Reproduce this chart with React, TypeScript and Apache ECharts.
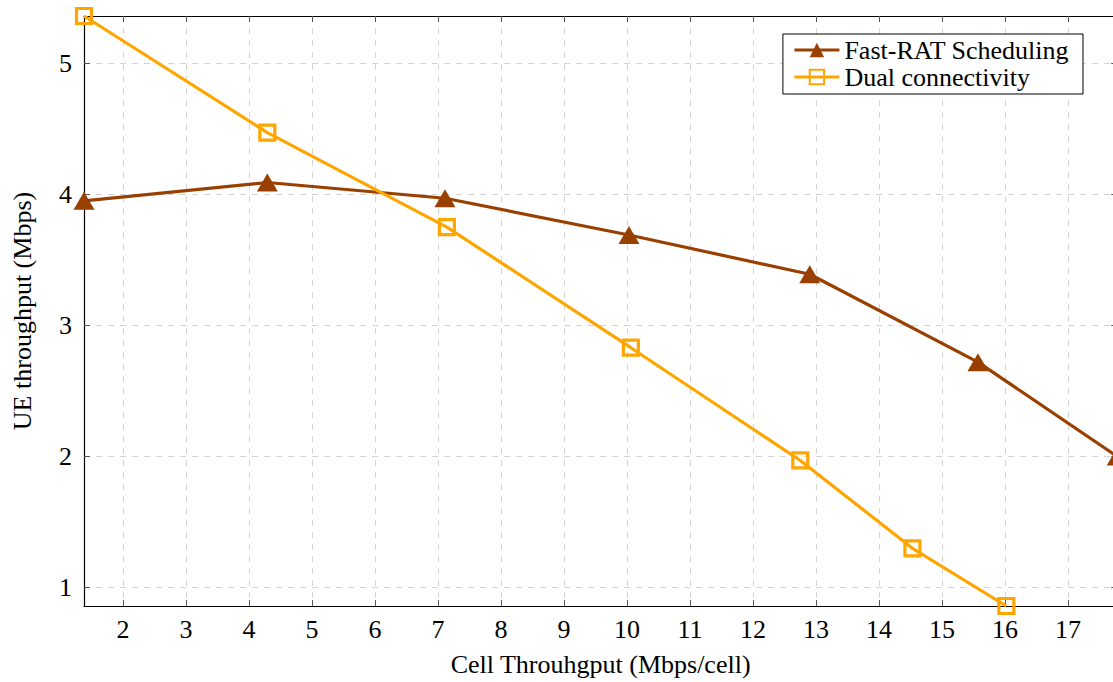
import React, { useEffect, useRef } from "react";
import * as echarts from "echarts";

// Cell throughput (Mbps/cell) and UE throughput (Mbps) per scheme
const fastRatX = [1.38, 4.29, 7.11, 10.03, 12.9, 15.57, 17.78];
const fastRatY = [3.95, 4.09, 3.97, 3.69, 3.39, 2.72, 2.0];
const dualX = [1.38, 4.29, 7.14, 10.06, 12.75, 14.53, 16.02];
const dualY = [5.36, 4.47, 3.75, 2.83, 1.97, 1.3, 0.86];

const xTicks = [2, 3, 4, 5, 6, 7, 8, 9, 10, 11, 12, 13, 14, 15, 16, 17];
const yTicks = [1, 2, 3, 4, 5];

const X_MIN = 1.38;
const X_MAX = 17.78;
const Y_MIN = 0.86;
const Y_MAX = 5.36;

const FONT = "'Liberation Serif', 'Times New Roman', serif";
const FONT_SIZE = 26;
const BROWN = "#994000";
const ORANGE = "#FFA500";

export default function App() {
  const ref = useRef<HTMLDivElement>(null);

  useEffect(() => {
    if (!ref.current) return;
    const chart = echarts.init(ref.current, undefined, { renderer: "svg" });

    const gridLine = {
      show: true,
      lineStyle: { color: "#d4d4d4", type: [6, 6] as any, width: 1 },
    };
    const tick = (vals: number[]) => ({
      show: true,
      inside: true,
      length: 6,
      customValues: vals,
      lineStyle: { color: "#555", width: 1 },
    });
    const axisLine = { show: true, onZero: false, lineStyle: { color: "#000", width: 1.2 } };
    const text = { fontFamily: FONT, fontSize: FONT_SIZE, color: "#000" };

    chart.setOption({
      animation: false,
      backgroundColor: "#fff",
      textStyle: { fontFamily: FONT },
      grid: { left: 84, top: 16, right: 7.8, bottom: 76 },
      legend: {
        show: true,
        orient: "vertical",
        right: 42,
        top: 34,
        itemWidth: 45,
        itemHeight: 18,
        itemGap: 1,
        padding: [3, 14, 4, 10],
        borderColor: "#000",
        borderWidth: 1,
        backgroundColor: "#fff",
        lineStyle: { width: 3 },
        textStyle: { ...text, lineHeight: 26 },
        data: ["Fast-RAT Scheduling", "Dual connectivity"],
      },
      xAxis: [
        {
          type: "value",
          min: X_MIN,
          max: X_MAX,
          position: "bottom",
          name: "Cell Throuhgput (Mbps/cell)",
          nameLocation: "middle",
          nameGap: 45,
          nameTextStyle: text,
          axisLine,
          axisTick: tick(xTicks),
          axisLabel: { customValues: xTicks, ...text, margin: 10 },
          splitLine: { ...gridLine, customValues: xTicks } as any,
        },
        {
          type: "value",
          min: X_MIN,
          max: X_MAX,
          position: "top",
          axisLine,
          axisTick: tick(xTicks),
          axisLabel: { show: false },
          splitLine: { show: false },
        },
      ],
      yAxis: [
        {
          type: "value",
          min: Y_MIN,
          max: Y_MAX,
          position: "left",
          name: "UE throughput (Mbps)",
          nameLocation: "middle",
          nameGap: 49,
          nameTextStyle: text,
          axisLine,
          axisTick: tick(yTicks),
          axisLabel: { customValues: yTicks, ...text, margin: 12 },
          splitLine: { ...gridLine, customValues: yTicks } as any,
        },
        {
          type: "value",
          min: Y_MIN,
          max: Y_MAX,
          position: "right",
          axisLine,
          axisTick: tick(yTicks),
          axisLabel: { show: false },
          splitLine: { show: false },
        },
      ],
      series: [
        {
          name: "Fast-RAT Scheduling",
          type: "line",
          xAxisIndex: 0,
          yAxisIndex: 0,
          data: fastRatX.map((x, i) => [x, fastRatY[i]]),
          symbol: "triangle",
          symbolSize: [21, 18],
          clip: false,
          lineStyle: { color: BROWN, width: 3.2 },
          itemStyle: { color: BROWN },
          z: 3,
        },
        {
          name: "Dual connectivity",
          type: "line",
          xAxisIndex: 0,
          yAxisIndex: 0,
          data: dualX.map((x, i) => [x, dualY[i]]),
          symbol: "rect",
          symbolSize: 15,
          clip: false,
          lineStyle: { color: ORANGE, width: 3.2 },
          itemStyle: { color: "transparent", borderColor: ORANGE, borderWidth: 3.2 },
          z: 4,
        },
      ],
    });

    return () => chart.dispose();
  }, []);

  return (
    <div
      style={{
        position: "fixed",
        left: 0,
        top: 0,
        width: 1113,
        height: 682,
        overflow: "hidden",
        background: "#fff",
      }}
    >
      <div ref={ref} style={{ width: 1125, height: 682 }} />
    </div>
  );
}
